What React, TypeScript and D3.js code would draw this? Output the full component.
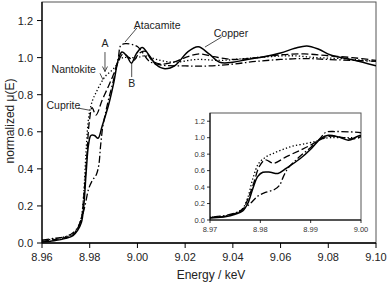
import React from "react";
import * as d3 from "d3";

type P = [number, number];

const copper: P[] = [
  [8.96, 0.005], [8.965, 0.012], [8.97, 0.025], [8.973, 0.04], [8.975, 0.07], [8.9765, 0.11],
  [8.9775, 0.2], [8.9785, 0.38], [8.9795, 0.53], [8.9805, 0.58], [8.982, 0.58], [8.9835, 0.565],
  [8.9852, 0.63], [8.988, 0.75], [8.99, 0.86], [8.992, 0.99], [8.9935, 1.03], [8.9955, 1.01],
  [8.9975, 0.97], [8.9995, 1.02], [9.002, 1.055], [9.0045, 1.02], [9.008, 0.96], [9.0115, 0.94],
  [9.016, 0.96], [9.021, 1.03], [9.0255, 1.058], [9.03, 1.02], [9.0345, 0.975], [9.04, 0.975],
  [9.046, 0.99], [9.053, 1.005], [9.06, 1.025], [9.066, 1.05], [9.071, 1.063], [9.076, 1.045],
  [9.081, 1.014], [9.0905, 0.987], [9.1, 0.956],
];

const cuprite: P[] = [
  [8.96, 0.01], [8.965, 0.018], [8.97, 0.03], [8.973, 0.045], [8.975, 0.08], [8.9765, 0.13],
  [8.9775, 0.25], [8.9787, 0.45], [8.9798, 0.65], [8.981, 0.73], [8.9826, 0.69], [8.9852, 0.77],
  [8.988, 0.85], [8.99, 0.91], [8.992, 0.98], [8.994, 1.02], [8.9965, 1.0], [8.9985, 0.985],
  [9.0005, 1.02], [9.003, 1.035], [9.0065, 0.98], [9.01, 0.965], [9.015, 0.975], [9.02, 1.0],
  [9.026, 1.02], [9.032, 1.005], [9.04, 0.99], [9.05, 1.0], [9.06, 1.015], [9.07, 1.02],
  [9.08, 1.01], [9.09, 1.0], [9.1, 0.985],
];

const nantokite: P[] = [
  [8.96, 0.015], [8.965, 0.022], [8.97, 0.035], [8.973, 0.05], [8.975, 0.08], [8.9765, 0.14],
  [8.9775, 0.27], [8.9785, 0.5], [8.9797, 0.69], [8.9812, 0.77], [8.9826, 0.81], [8.9846, 0.86],
  [8.9866, 0.9], [8.9892, 0.93], [8.9912, 0.96], [8.9925, 0.99], [8.994, 1.0], [8.997, 1.0],
  [9.0, 1.0], [9.003, 1.01], [9.008, 0.99], [9.015, 0.975], [9.025, 0.99], [9.035, 0.985],
  [9.045, 0.995], [9.055, 1.005], [9.065, 1.01], [9.075, 1.0], [9.085, 0.995], [9.1, 0.98],
];

const atacamite: P[] = [
  [8.96, 0.015], [8.965, 0.025], [8.97, 0.035], [8.973, 0.055], [8.975, 0.085], [8.9765, 0.13],
  [8.978, 0.2], [8.9795, 0.29], [8.981, 0.335], [8.9828, 0.37], [8.9838, 0.42], [8.9846, 0.53],
  [8.9855, 0.63], [8.9866, 0.7], [8.988, 0.78], [8.99, 0.88], [8.992, 1.0], [8.993, 1.065],
  [8.995, 1.075], [8.998, 1.07], [9.0, 1.06], [9.002, 1.03], [9.005, 0.98], [9.01, 0.96],
  [9.02, 0.955], [9.03, 0.955], [9.04, 0.965], [9.05, 0.98], [9.06, 0.99], [9.07, 0.995],
  [9.08, 0.99], [9.09, 0.985], [9.1, 0.98],
];

const mainXTicks = [8.96, 8.98, 9.0, 9.02, 9.04, 9.06, 9.08, 9.1];
const mainYTicks = [0, 0.2, 0.4, 0.6, 0.8, 1.0, 1.2];
const insetXTicks = [8.97, 8.98, 8.99, 9.0];
const insetYTicks = [0, 0.2, 0.4, 0.6, 0.8, 1.0, 1.2];

const seriesStyles = [
  { name: "Copper", data: copper, dash: "none", w: 1.5 },
  { name: "Cuprite", data: cuprite, dash: "7,3", w: 1.3 },
  { name: "Nantokite", data: nantokite, dash: "1.3,2.2", w: 1.3 },
  { name: "Atacamite", data: atacamite, dash: "7,2.5,1.5,2.5", w: 1.3 },
];

// annotations in data coordinates: text anchor + leader line
const annotations = [
  { text: "Atacamite", tx: 9.00827, ty: 1.154, line: [[8.9998, 1.16], [8.9948, 1.084]] as P[], arrow: false },
  { text: "A", tx: 8.9864, ty: 1.057, line: [[8.9864, 1.03], [8.9864, 0.925]] as P[], arrow: true },
  { text: "Nantokite", tx: 8.9733, ty: 0.917, line: [[8.9843, 0.915], [8.9856, 0.88]] as P[], arrow: false },
  { text: "Cuprite", tx: 8.969, ty: 0.723, line: [[8.97505, 0.728], [8.98, 0.716]] as P[], arrow: false },
  { text: "B", tx: 8.9976, ty: 0.842, line: [[8.9976, 0.895], [8.9976, 0.97]] as P[], arrow: false },
  { text: "Copper", tx: 9.0392, ty: 1.111, line: [[9.0353, 1.111], [9.0283, 1.057]] as P[], arrow: false },
];

const FONT = "'Liberation Sans', Arial, sans-serif";

export default function App() {
  const W = 387, H = 284;
  const m = { l: 42, r: 376, t: 2, b: 243 };
  const x = d3.scaleLinear().domain([8.96, 9.1]).range([m.l, m.r]);
  const y = d3.scaleLinear().domain([0, 1.3]).range([m.b, m.t]);

  const ins = { l: 210, r: 361, t: 113, b: 220 };
  const xi = d3.scaleLinear().domain([8.97, 9.0]).range([ins.l, ins.r]);
  const yi = d3.scaleLinear().domain([0, 1.3]).range([ins.b, ins.t]);

  const lineMain = d3.line<P>().x((d) => x(d[0])).y((d) => y(d[1])).curve(d3.curveCatmullRom.alpha(0.5));
  const lineIns = d3.line<P>().x((d) => xi(d[0])).y((d) => yi(d[1])).curve(d3.curveCatmullRom.alpha(0.5));

  return (
    <svg width={W} height={H} style={{ position: "absolute", left: 0, top: 0 }} fontFamily={FONT}>
      <defs>
        <clipPath id="mainClip"><rect x={m.l} y={m.t} width={m.r - m.l} height={m.b - m.t} /></clipPath>
        <clipPath id="insClip"><rect x={ins.l} y={ins.t} width={ins.r - ins.l} height={ins.b - ins.t} /></clipPath>
      </defs>
      <rect x={0} y={0} width={W} height={H} fill="#fff" />
      {/* main frame */}
      <rect x={m.l} y={m.t} width={m.r - m.l} height={m.b - m.t} fill="none" stroke="#555" strokeWidth={1} />
      <line x1={m.l} x2={m.l} y1={m.t} y2={m.b} stroke="#000" strokeWidth={1.3} />
      <line x1={m.l} x2={m.r} y1={m.b} y2={m.b} stroke="#000" strokeWidth={1.3} />
      {/* main curves */}
      <g clipPath="url(#mainClip)">
        {seriesStyles.map((s) => (
          <path key={s.name} d={lineMain(s.data) || ""} fill="none" stroke="#000" strokeWidth={s.w}
            strokeDasharray={s.dash} />
        ))}
      </g>
      {/* main ticks */}
      {mainYTicks.map((t) => (
        <g key={"my" + t}>
          <line x1={m.l - 5} x2={m.l} y1={y(t)} y2={y(t)} stroke="#000" strokeWidth={1} />
          <text x={m.l - 9} y={y(t) + 4} fontSize={11} textAnchor="end" fill="#222">{t.toFixed(1)}</text>
        </g>
      ))}
      {mainXTicks.map((t) => (
        <g key={"mx" + t}>
          <line x1={x(t)} x2={x(t)} y1={m.b} y2={m.b + 5} stroke="#000" strokeWidth={1} />
          <text x={x(t)} y={m.b + 18} fontSize={11} textAnchor="middle" fill="#222">{t.toFixed(2)}</text>
        </g>
      ))}
      <text x={211} y={279} fontSize={12} textAnchor="middle" fill="#222">Energy / keV</text>
      <text transform={`translate(14, ${121}) rotate(-90)`} fontSize={12} textAnchor="middle" fill="#222">normalized μ(E)</text>

      {/* annotations */}
      {annotations.map((a) => (
        <g key={a.text}>
          <text x={x(a.tx)} y={y(a.ty)} fontSize={10.5} textAnchor="middle" fill="#222">{a.text}</text>
          <line x1={x(a.line[0][0])} y1={y(a.line[0][1])} x2={x(a.line[1][0])} y2={y(a.line[1][1])}
            stroke="#222" strokeWidth={0.8} />
          {a.arrow && (
            <path d={`M${x(a.line[1][0]) - 2.5},${y(a.line[1][1]) - 5} L${x(a.line[1][0])},${y(a.line[1][1])} L${x(a.line[1][0]) + 2.5},${y(a.line[1][1]) - 5}`}
              fill="none" stroke="#222" strokeWidth={0.8} />
          )}
        </g>
      ))}

      {/* inset */}
      <rect x={ins.l} y={ins.t} width={ins.r - ins.l} height={ins.b - ins.t} fill="#fff" stroke="#555" strokeWidth={1} />
      <g clipPath="url(#insClip)">
        {seriesStyles.map((s) => (
          <path key={"i" + s.name} d={lineIns(s.data) || ""} fill="none" stroke="#000" strokeWidth={s.w}
            strokeDasharray={s.dash} />
        ))}
      </g>
      <line x1={ins.l} x2={ins.l} y1={ins.t} y2={ins.b} stroke="#000" strokeWidth={1} />
      <line x1={ins.l} x2={ins.r} y1={ins.b} y2={ins.b} stroke="#000" strokeWidth={1} />
      {insetYTicks.map((t) => (
        <g key={"iy" + t}>
          <line x1={ins.l - 3} x2={ins.l} y1={yi(t)} y2={yi(t)} stroke="#000" strokeWidth={0.8} />
          <text x={ins.l - 5} y={yi(t) + 2.8} fontSize={7.5} textAnchor="end" fill="#333">{t.toFixed(1)}</text>
        </g>
      ))}
      {insetXTicks.map((t) => (
        <g key={"ix" + t}>
          <line x1={xi(t)} x2={xi(t)} y1={ins.b} y2={ins.b + 3} stroke="#000" strokeWidth={0.8} />
          <text x={xi(t)} y={ins.b + 12} fontSize={7.5} textAnchor="middle" fill="#333">{t.toFixed(2)}</text>
        </g>
      ))}
    </svg>
  );
}
